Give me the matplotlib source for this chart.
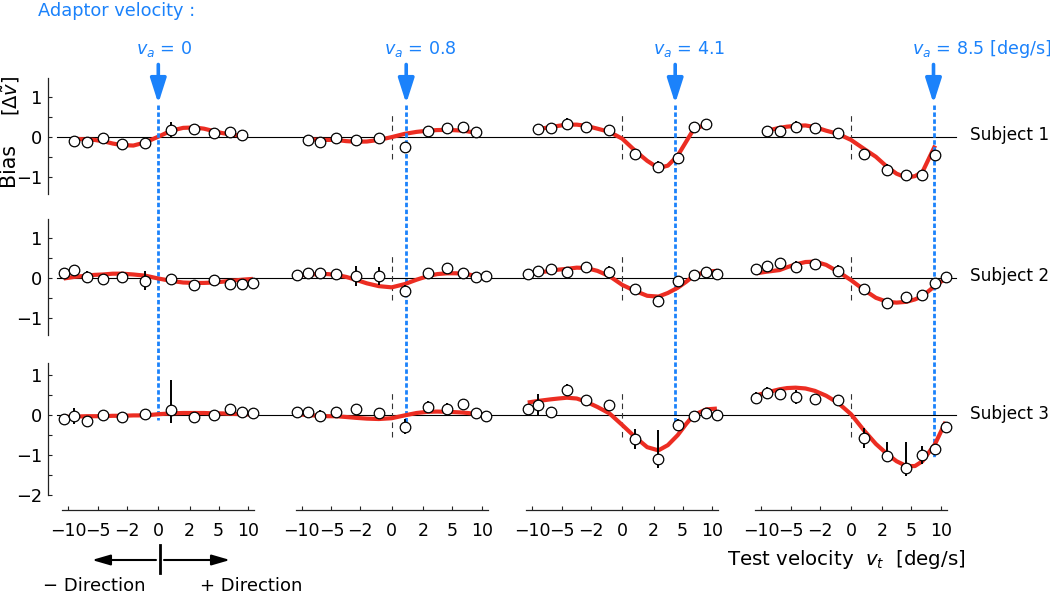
import numpy as np
import matplotlib
matplotlib.use('Agg')
import matplotlib.pyplot as plt
from matplotlib.ticker import FixedLocator, NullLocator, MultipleLocator
from matplotlib.patches import FancyArrowPatch
from matplotlib.lines import Line2D

plt.rcParams['font.family'] = ['DejaVu Sans']
plt.rcParams['mathtext.fontset'] = 'dejavusans'

# ---------------- data ----------------
adaptor_v = [0, 0.8, 4.1, 8.5]
adaptor_labels = ['$v_a$ = 0', '$v_a$ = 0.8', '$v_a$ = 4.1', '$v_a$ = 8.5 [deg/s]']
subjects = ['Subject 1', 'Subject 2', 'Subject 3']
xticks = [-10, -5, -2, 0, 2, 5, 10]

test_v_s1 = [-8.8, -6.6, -4.4, -2.4, -0.7, 0.7, 2.4, 4.4, 6.6, 8.8]
test_v = [-11, -8.8, -6.6, -4.4, -2.4, -0.7, 0.7, 2.4, 4.4, 6.6, 8.8, 11]
fit_v_s1 = [-8.8, -6.6, -5.5, -4.4, -3.3, -2.4, -1.5, -0.7, 0, 0.7, 1.5, 2.4, 3.3, 4.4, 5.5, 6.6, 8.8]
fit_v = [-11, -8.8, -6.6, -5.5, -4.4, -3.3, -2.4, -1.5, -0.7, 0, 0.7, 1.5, 2.4, 3.3, 4.4, 5.5, 6.6, 8.8, 11]

# Subject 1 (one list per adaptor velocity)
s1_bias = [
    [-0.11, -0.12, -0.03, -0.19, -0.16, 0.17, 0.19, 0.08, 0.12, 0.04],
    [-0.09, -0.125, -0.04, -0.07, -0.03, -0.25, 0.14, 0.21, 0.23, 0.125],
    [0.18, 0.21, 0.31, 0.25, 0.17, -0.44, -0.75, -0.52, 0.23, 0.31],
    [0.15, 0.13, 0.25, 0.21, 0.09, -0.43, -0.83, -0.95, -0.95, -0.45],
]
s1_err = [
    [0.05, 0.05, 0.05, 0.05, 0.05, 0.2, 0.05, 0.05, 0.05, 0.05],
    [0.05, 0.05, 0.05, 0.05, 0.1, 0.05, 0.05, 0.05, 0.05, 0.05],
    [0.05, 0.05, 0.15, 0.05, 0.05, 0.05, 0.15, 0.05, 0.05, 0.05],
    [0.05, 0.05, 0.15, 0.05, 0.05, 0.05, 0.15, 0.05, 0.05, 0.05],
]
s1_fit = [
    [-0.05, -0.07, -0.08, -0.11, -0.17, -0.21, -0.22, -0.14, 0.0, 0.15, 0.22, 0.23, 0.2, 0.14, 0.09, 0.06, 0.02],
    [-0.06, -0.08, -0.08, -0.08, -0.11, -0.125, -0.12, -0.08, -0.01, 0.07, 0.12, 0.15, 0.165, 0.17, 0.16, 0.15, 0.1],
    [0.19, 0.24, 0.27, 0.3, 0.3, 0.27, 0.2, 0.12, -0.05, -0.35, -0.6, -0.78, -0.72, -0.47, -0.12, 0.19, 0.3],
    [0.15, 0.22, 0.25, 0.27, 0.28, 0.24, 0.15, 0.07, -0.08, -0.3, -0.5, -0.75, -0.92, -1.02, -0.98, -0.88, -0.22],
]

# Subject 2
s2_bias = [
    [0.125, 0.19, 0.025, -0.04, 0.017, -0.075, -0.03, -0.18, -0.06, -0.16, -0.16, -0.14],
    [0.06, 0.12, 0.11, 0.1, 0.04, 0.04, -0.32, 0.125, 0.25, 0.125, 0.025, 0.04],
    [0.09, 0.17, 0.22, 0.14, 0.27, 0.13, -0.27, -0.58, -0.08, 0.07, 0.15, 0.08],
    [0.22, 0.29, 0.36, 0.26, 0.34, 0.16, -0.27, -0.62, -0.475, -0.43, -0.12, 0.01],
]
s2_err = [
    [0.05, 0.05, 0.15, 0.05, 0.05, 0.23, 0.05, 0.1, 0.12, 0.12, 0.05, 0.05],
    [0.05, 0.05, 0.05, 0.05, 0.25, 0.22, 0.15, 0.05, 0.12, 0.05, 0.05, 0.05],
    [0.05, 0.05, 0.05, 0.1, 0.05, 0.15, 0.05, 0.13, 0.05, 0.05, 0.05, 0.05],
    [0.05, 0.05, 0.05, 0.15, 0.05, 0.15, 0.05, 0.12, 0.1, 0.05, 0.05, 0.05],
]
s2_fit = [
    [-0.02, 0.02, 0.05, 0.07, 0.08, 0.1, 0.1, 0.08, 0.05, -0.02, -0.08, -0.12, -0.13, -0.13, -0.12, -0.1, -0.08, -0.05, -0.03],
    [0.05, 0.08, 0.09, 0.09, 0.07, 0.02, -0.05, -0.14, -0.21, -0.24, -0.16, -0.05, 0.04, 0.09, 0.11, 0.11, 0.1, 0.05, 0.02],
    [0.09, 0.13, 0.17, 0.2, 0.22, 0.25, 0.24, 0.17, 0.04, -0.18, -0.33, -0.45, -0.47, -0.38, -0.25, -0.1, 0.05, 0.15, 0.17],
    [0.11, 0.15, 0.19, 0.26, 0.33, 0.39, 0.4, 0.32, 0.15, -0.06, -0.3, -0.5, -0.6, -0.62, -0.6, -0.54, -0.46, -0.2, -0.02],
]

# Subject 3  (tuples = asymmetric (lower, upper) error)
s3_bias = [
    [-0.1, -0.025, -0.16, 0.0, -0.04, 0.02, 0.12, -0.04, 0.0, 0.15, 0.07, 0.04],
    [0.08, 0.07, -0.02, 0.07, 0.15, 0.06, -0.29, 0.2, 0.16, 0.27, 0.04, -0.02],
    [0.15, 0.25, 0.07, 0.63, 0.37, 0.26, -0.6, -1.1, -0.25, -0.02, 0.04, 0.0],
    [0.43, 0.55, 0.53, 0.45, 0.39, 0.37, -0.57, -1.02, -1.33, -1.0, -0.84, -0.29],
]
s3_err = [
    [0.05, 0.2, 0.1, 0.05, 0.05, 0.05, (0.32, 0.74), 0.12, 0.12, 0.05, 0.05, 0.05],
    [0.05, 0.05, 0.15, 0.05, 0.05, 0.05, 0.18, 0.15, 0.15, 0.05, 0.05, 0.05],
    [0.05, 0.27, 0.12, 0.15, 0.05, 0.05, 0.25, (0.22, 0.72), 0.15, 0.05, 0.05, 0.05],
    [0.13, 0.15, 0.05, 0.18, 0.05, 0.12, 0.25, (0.12, 0.36), (0.19, 0.67), 0.22, 0.1, 0.05],
]
s3_fit = [
    [-0.05, -0.04, -0.03, -0.03, -0.03, -0.02, -0.02, -0.01, -0.01, 0.02, 0.04, 0.05, 0.05, 0.05, 0.04, 0.04, 0.03, 0.02, 0.01],
    [0.02, 0.0, -0.02, -0.03, -0.03, -0.05, -0.07, -0.09, -0.1, -0.08, -0.01, 0.05, 0.08, 0.085, 0.08, 0.07, 0.06, 0.03, -0.01],
    [0.31, 0.35, 0.39, 0.41, 0.43, 0.41, 0.33, 0.2, 0.04, -0.25, -0.55, -0.8, -0.88, -0.75, -0.5, -0.22, 0.0, 0.14, 0.16],
    [0.49, 0.56, 0.64, 0.67, 0.68, 0.66, 0.6, 0.48, 0.3, 0.02, -0.38, -0.72, -0.97, -1.15, -1.27, -1.27, -1.15, -0.72, -0.17],
]

# lower end (in subject-3 bias units) of the blue adaptor lines
adaptor_line_end = [-0.12, -0.42, -0.25, -1.04]

rows = [
    (test_v_s1, s1_bias, s1_err, fit_v_s1, s1_fit),
    (test_v, s2_bias, s2_err, fit_v, s2_fit),
    (test_v, s3_bias, s3_err, fit_v, s3_fit),
]

# ---------------- style / layout ----------------
BLUE = '#1b82fb'
RED = '#ec2d22'
W, H = 1050, 593
fig = plt.figure(figsize=(W / 100, H / 100), dpi=100)

V0 = 3.0
def fwd(v):
    v = np.asarray(v, dtype=float)
    return np.sign(v) * np.log1p(np.abs(v) / V0)
def inv(u):
    u = np.asarray(u, dtype=float)
    return np.sign(u) * V0 * np.expm1(np.abs(u))

XLIM = 11.3
K = 61.4
half_w = K * np.log1p(XLIM / V0)
col_zero_px = [158.3, 391.7, 622.3, 851.0]
row_zero_px = [136.7, 277.7, 415.0]
row_ylim = [(-1.42, 1.45), (-1.42, 1.45), (-2.0, 1.3)]
PXU = 40.2

def py2d(px, r):
    return (row_zero_px[r] - px) / PXU

axes = [[None] * 4 for _ in range(3)]
for r in range(3):
    y0, y1 = row_ylim[r]
    top = row_zero_px[r] - y1 * PXU
    bot = row_zero_px[r] - y0 * PXU
    for c in range(4):
        left = col_zero_px[c] - half_w
        ax = fig.add_axes([left / W, 1 - bot / H, 2 * half_w / W, (bot - top) / H])
        ax.set_xscale('function', functions=(fwd, inv))
        ax.set_xlim(-XLIM, XLIM)
        ax.set_ylim(y0, y1)
        ax.patch.set_visible(False)
        for s in ['top', 'right']:
            ax.spines[s].set_visible(False)
        ax.xaxis.set_minor_locator(NullLocator())
        # y axis only in first column
        if c == 0:
            ax.spines['left'].set_position(('outward', 10.2))
            ax.spines['left'].set_linewidth(0.9)
            ax.spines['left'].set_color('#222222')
            ax.yaxis.set_major_locator(MultipleLocator(1))
            ax.yaxis.set_minor_locator(MultipleLocator(0.5))
            ax.tick_params(axis='y', which='major', direction='in', length=3.2, width=0.8,
                           labelsize=12.8, pad=4.5, colors='#222222', labelcolor='black')
            ax.tick_params(axis='y', which='minor', direction='in', length=2.6, width=0.8,
                           colors='#222222')
        else:
            ax.spines['left'].set_visible(False)
            ax.tick_params(axis='y', which='both', left=False, labelleft=False)
        # x axis only in bottom row
        ax.set_xticks(xticks)
        if r == 2:
            ax.spines['bottom'].set_position(('outward', 10.5))
            ax.spines['bottom'].set_linewidth(0.9)
            ax.spines['bottom'].set_color('#222222')
            ax.tick_params(axis='x', which='major', direction='in', length=3.2, width=0.8,
                           labelsize=12.5, pad=8.3, colors='#222222', labelcolor='black')
        else:
            ax.spines['bottom'].set_visible(False)
            ax.tick_params(axis='x', which='both', bottom=False, labelbottom=False)
        axes[r][c] = ax

# ---------------- draw ----------------
for r, (tv, bias, err, fv, fit) in enumerate(rows):
    # horizontal zero line spanning the whole row
    ax0 = axes[r][0]
    left0 = col_zero_px[0] - half_w
    ax0.axhline(0, xmin=(57 - left0) / (2 * half_w), xmax=(956 - left0) / (2 * half_w),
                color='black', lw=0.8, clip_on=False, zorder=1)
    for c in range(4):
        ax = axes[r][c]
        if c > 0:
            ax.plot([0, 0], [-0.55, 0.55], color='#333333', lw=0.8, ls=(0, (5, 3.5)), zorder=1)
        ax.plot(fv, fit[c], color=RED, lw=3.0, solid_joinstyle='round',
                solid_capstyle='butt', zorder=2, clip_on=False)
        lo = [e[0] if isinstance(e, tuple) else e for e in err[c]]
        hi = [e[1] if isinstance(e, tuple) else e for e in err[c]]
        ax.errorbar(tv, bias[c], yerr=[lo, hi], fmt='none', ecolor='black',
                    elinewidth=1.4, capsize=0, zorder=3, clip_on=False)
        ax.plot(tv, bias[c], 'o', ms=7.6, mfc='white', mec='black', mew=0.9,
                zorder=4, clip_on=False)
    axes[r][3].annotate(subjects[r], xy=(1, 0.03), xycoords=('axes fraction', 'data'),
                        xytext=((970 - (col_zero_px[3] + half_w)) * 0.72, 0),
                        textcoords='offset points', ha='left', va='center',
                        fontsize=12.2, annotation_clip=False)

# adaptor arrows, labels and dotted lines (drawn in the top-row axes)
shift_r3 = (row_zero_px[2] - row_zero_px[0]) / PXU
for c in range(4):
    ax = axes[0][c]
    va = adaptor_v[c]
    ax.plot([va, va], [py2d(105, 0), adaptor_line_end[c] - shift_r3], color=BLUE,
            lw=2.0, ls=(0, (1.6, 0.9)), zorder=2.5, clip_on=False)
    ax.annotate('', xy=(va, py2d(103.5, 0)), xytext=(va, py2d(64.5, 0)),
                xycoords='data', annotation_clip=False,
                arrowprops=dict(arrowstyle='-|>,head_length=1.25,head_width=0.4',
                                mutation_scale=12, lw=2.6, color=BLUE,
                                shrinkA=0, shrinkB=0))
    ax.annotate(adaptor_labels[c], xy=(va, py2d(53.5, 0)), xytext=(-22 * 0.72, 0),
                textcoords='offset points', ha='left', va='baseline',
                color=BLUE, fontsize=12.6, annotation_clip=False)

fig.text(38 / W, 1 - 15.5 / H, 'Adaptor velocity :', color=BLUE, fontsize=12.8, va='baseline')

# y label
fig.text(8.5 / W, 1 - 164 / H, 'Bias', rotation=90, fontsize=14.8, ha='center', va='center')
fig.text(10.5 / W, 1 - 95.5 / H, r'[$\Delta\tilde{v}$]', rotation=90, fontsize=14,
         ha='center', va='center')

# x label
fig.text(726.7 / W, 1 - 565 / H, r'Test velocity  $v_t$  [deg/s]', fontsize=14.2, va='baseline')

# direction arrows
ya = 1 - 560 / H
for xa, xb in [(156, 92), (164, 230)]:
    fig.add_artist(FancyArrowPatch((xa / W, ya), (xb / W, ya), transform=fig.transFigure,
                                   arrowstyle='-|>,head_length=1.1,head_width=0.32',
                                   mutation_scale=10, lw=1.5, color='black',
                                   shrinkA=0, shrinkB=0))
fig.add_artist(Line2D([160 / W, 160 / W], [1 - 545 / H, 1 - 573 / H],
                      transform=fig.transFigure, lw=2.0, color='black'))
fig.text(43 / W, 1 - 591 / H, '\u2212 Direction', fontsize=13, va='baseline')
fig.text(200 / W, 1 - 591 / H, '+ Direction', fontsize=13, va='baseline')

fig.savefig('out.png', dpi=100, facecolor='white')
